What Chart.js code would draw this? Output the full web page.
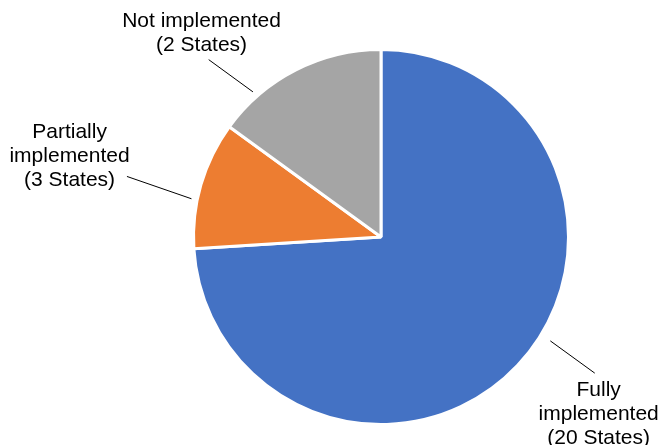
<!DOCTYPE html>
<html>
<head>
<meta charset="utf-8">
<script src="https://cdn.jsdelivr.net/npm/chart.js@4"></script>
<style>
  html, body { margin: 0; padding: 0; background: #fff; }
  #wrap { width: 660px; height: 445px; }
</style>
</head>
<body>
<div id="wrap"><canvas id="statusPie"></canvas></div>
<script>
// Slice data (shares, clockwise from 12 o'clock)
let categories = ['Fully implemented', 'Partially implemented', 'Not implemented']
let shareValues = [74, 11, 15]
let stateCounts = [20, 3, 2]
let labelLines = [
    ['Fully', 'implemented', '(20 States)'],
    ['Partially', 'implemented', '(3 States)'],
    ['Not implemented', '(2 States)']
]
let sliceColors = ['#4472C4', '#ED7D31', '#A5A5A5']

// Where each label sits, as fractions of the pie radius from its centre
// [leader start x, y, leader end x, y, text centre x, y]
let labelSpots = [
    [0.903, 0.554, 1.140, 0.726, 1.161, 0.943],
    [-1.011, -0.204, -1.355, -0.323, -1.661, -0.430],
    [-0.683, -0.774, -0.919, -0.946, -0.957, -1.086]
]

// Draws the outside labels with leader lines
const outsideLabels = {
    id: 'outsideLabels',
    afterDatasetsDraw(chart) {
        const ctx = chart.ctx;
        const arcs = chart.getDatasetMeta(0).data;
        ctx.save();
        ctx.font = '21px "Liberation Sans", Arial, sans-serif';
        ctx.fillStyle = '#000';
        ctx.strokeStyle = '#000';
        ctx.lineWidth = 1;
        ctx.textAlign = 'center';
        ctx.textBaseline = 'middle';
        arcs.forEach(function(arc, i) {
            const r = arc.outerRadius;
            const s = labelSpots[i];
            ctx.beginPath();
            ctx.moveTo(arc.x + s[0] * r, arc.y + s[1] * r);
            ctx.lineTo(arc.x + s[2] * r, arc.y + s[3] * r);
            ctx.stroke();
            const lines = labelLines[i];
            const lh = 24;
            const top = arc.y + s[5] * r - (lines.length - 1) * lh / 2;
            lines.forEach(function(t, j) {
                ctx.fillText(t, arc.x + s[4] * r, top + j * lh);
            });
        });
        ctx.restore();
    }
};

var ctxPie = document.getElementById('statusPie').getContext('2d');
var chartPie = new Chart(ctxPie, {
    type: 'pie',
    data: {
        labels: categories,
        datasets: [{
            data: shareValues,
            backgroundColor: sliceColors,
            borderColor: '#ffffff',
            borderWidth: 3
        }]
    },
    options: {
        responsive: true,
        maintainAspectRatio: false,
        animation: false,
        layout: { padding: { left: 102, right: 0, top: 48, bottom: 19 } },
        plugins: {
            legend: { display: false },
            tooltip: { enabled: false }
        }
    },
    plugins: [outsideLabels]
});
</script>
</body>
</html>
